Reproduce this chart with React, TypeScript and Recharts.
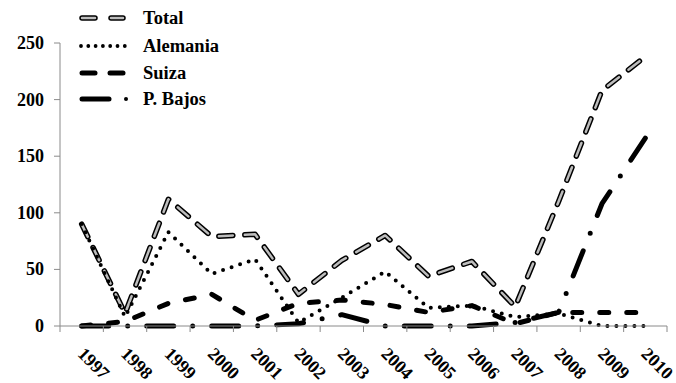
import React from 'react';
import { LineChart, Line, XAxis, YAxis } from 'recharts';

const years = ['1997', '1998', '1999', '2000', '2001', '2002', '2003', '2004', '2005', '2006', '2007', '2008', '2009', '2010'];
const total = [90, 11, 112, 79, 81, 28, 58, 80, 44, 57, 17, 110, 208, 238];
const alemania = [90, 8, 83, 46, 59, 3, 25, 48, 16, 18, 8, 11, 0, 0];
const suiza = [0, 4, 20, 28, 5, 20, 23, 19, 12, 18, 2, 12, 12, 12];
const pBajos = [0, 0, 0, 0, 0, 2, 10, 0, 0, 0, 3, 12, 108, 166];
const yTicks = [0, 50, 100, 150, 200, 250];

const W = 676;
const H = 383;
const MARGIN = { top: 43, right: 9, left: 0, bottom: 0 };
const Y_W = 60;
const X_H = H - 326 - MARGIN.bottom;
const BAND = (W - MARGIN.left - MARGIN.right - Y_W) / years.length;
const FONT = "'Liberation Serif', 'Times New Roman', serif";
const AXIS = '#8a8a8a';
const textStyle = { fontFamily: FONT, fontWeight: 700 };

const data = years.map((year, i) => ({
  year,
  total: total[i],
  alemania: alemania[i],
  suiza: suiza[i],
  pBajos: pBajos[i],
}));

// category labels sit mid-band, tick marks between bands (Excel style)
const YearTick = (props: any) => {
  const { x, y, payload, index } = props;
  const tx = x - 5;
  const ty = y + 29;
  return (
    <g>
      <line x1={x - BAND / 2} y1={y} x2={x - BAND / 2} y2={y + 6} stroke={AXIS} />
      {index === years.length - 1 && (
        <line x1={x + BAND / 2} y1={y} x2={x + BAND / 2} y2={y + 6} stroke={AXIS} />
      )}
      <text x={tx} y={ty} transform={`rotate(45, ${tx}, ${ty})`} style={textStyle} fontSize={18} fill="#000">
        {payload.value}
      </text>
    </g>
  );
};

const ValueTick = (props: any) => {
  const { x, y, payload } = props;
  return (
    <text x={x} y={y + 6} textAnchor="end" style={textStyle} fontSize={18} fill="#000">
      {payload.value}
    </text>
  );
};

const legendRows = [
  { name: 'Total', kind: 'total' },
  { name: 'Alemania', kind: 'dot' },
  { name: 'Suiza', kind: 'dash' },
  { name: 'P. Bajos', kind: 'dashdot' },
];
const legendY = [18, 46, 73, 99];

const LegendSymbol = ({ kind, cy }: { kind: string; cy: number }) => {
  if (kind === 'total') {
    return (
      <g strokeLinecap="round">
        <line x1={82} y1={cy} x2={95} y2={cy} stroke="#000" strokeWidth={5.5} />
        <line x1={111} y1={cy} x2={123} y2={cy} stroke="#000" strokeWidth={5.5} />
        <line x1={82} y1={cy} x2={95} y2={cy} stroke="#bdbdbd" strokeWidth={2.5} />
        <line x1={111} y1={cy} x2={123} y2={cy} stroke="#bdbdbd" strokeWidth={2.5} />
      </g>
    );
  }
  if (kind === 'dot') {
    return <line x1={81} y1={cy} x2={125} y2={cy} stroke="#000" strokeWidth={3.8} strokeLinecap="round" strokeDasharray="0 7.3" />;
  }
  if (kind === 'dash') {
    return (
      <g strokeLinecap="round" stroke="#000" strokeWidth={5}>
        <line x1={82} y1={cy} x2={95} y2={cy} />
        <line x1={110} y1={cy} x2={123} y2={cy} />
      </g>
    );
  }
  return (
    <g>
      <line x1={82} y1={cy} x2={109} y2={cy} stroke="#000" strokeWidth={5} strokeLinecap="round" />
      <circle cx={126} cy={cy} r={2} fill="#000" />
    </g>
  );
};

export default function App() {
  return (
    <div style={{ position: 'relative', width: W, height: H }}>
      <style>{'body{margin:0}'}</style>
      <LineChart width={W} height={H} data={data} margin={MARGIN}>
        <XAxis
          dataKey="year"
          scale="band"
          height={X_H}
          interval={0}
          tickLine={false}
          tickSize={0}
          tickMargin={0}
          axisLine={{ stroke: AXIS }}
          tick={<YearTick />}
        />
        <YAxis
          width={Y_W}
          domain={[0, 250]}
          ticks={yTicks}
          interval={0}
          tickSize={6}
          tickMargin={10}
          axisLine={{ stroke: AXIS }}
          tickLine={{ stroke: AXIS }}
          tick={<ValueTick />}
        />
        <Line dataKey="total" type="linear" stroke="#000" strokeWidth={5.5} strokeDasharray="14 12" strokeLinecap="round" strokeLinejoin="round" dot={false} isAnimationActive={false} />
        <Line dataKey="total" type="linear" stroke="#bdbdbd" strokeWidth={2.5} strokeDasharray="14 12" strokeLinecap="round" strokeLinejoin="round" dot={false} isAnimationActive={false} />
        <Line dataKey="alemania" type="linear" stroke="#000" strokeWidth={4} strokeDasharray="0 9" strokeLinecap="round" strokeLinejoin="round" dot={false} isAnimationActive={false} />
        <Line dataKey="suiza" type="linear" stroke="#000" strokeWidth={5} strokeDasharray="9 18" strokeLinecap="round" strokeLinejoin="round" dot={false} isAnimationActive={false} />
        <Line dataKey="pBajos" type="linear" stroke="#000" strokeWidth={5} strokeDasharray="27 19 0 19" strokeLinecap="round" strokeLinejoin="round" dot={false} isAnimationActive={false} />
      </LineChart>
      <svg width={W} height={120} style={{ position: 'absolute', left: 0, top: 0, pointerEvents: 'none' }}>
        {legendRows.map((row, i) => (
          <g key={row.name}>
            <LegendSymbol kind={row.kind} cy={legendY[i]} />
            <text x={143} y={legendY[i] + 6} style={textStyle} fontSize={18.5} fill="#000">
              {row.name}
            </text>
          </g>
        ))}
      </svg>
    </div>
  );
}
